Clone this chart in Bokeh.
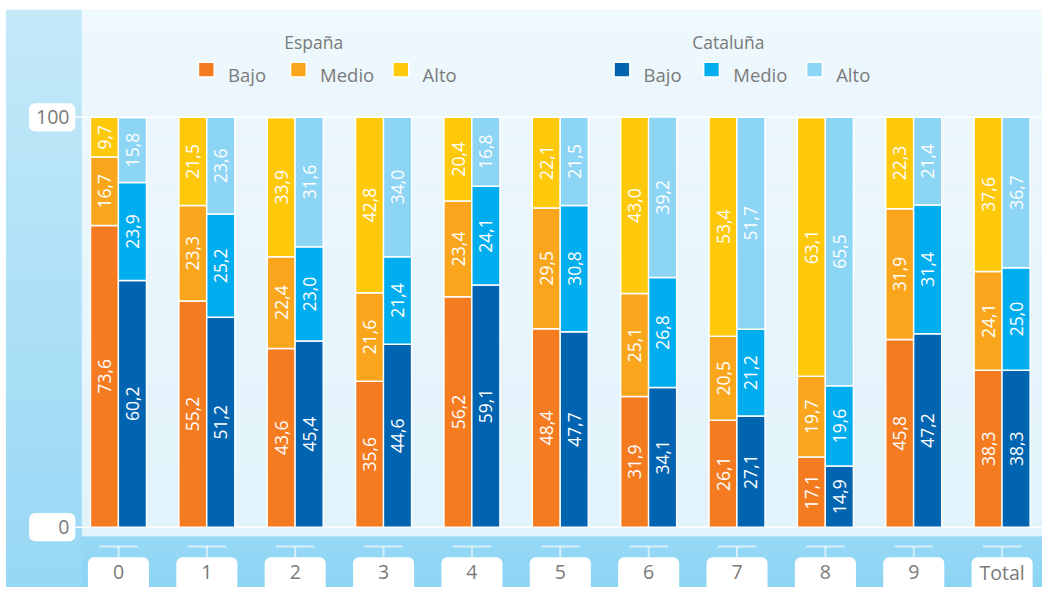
import numpy as np
from bokeh.plotting import figure
from bokeh.models import Range1d, ColumnDataSource
from bokeh.embed import file_html
from bokeh.resources import INLINE
from bokeh.core.properties import value

# ---------------- data ----------------
categories = ["0", "1", "2", "3", "4", "5", "6", "7", "8", "9", "Total"]
levels = ["Bajo", "Medio", "Alto"]
regions = ["España", "Cataluña"]

espana_bajo = [73.6, 55.2, 43.6, 35.6, 56.2, 48.4, 31.9, 26.1, 17.1, 45.8, 38.3]
espana_medio = [16.7, 23.3, 22.4, 21.6, 23.4, 29.5, 25.1, 20.5, 19.7, 31.9, 24.1]
espana_alto = [9.7, 21.5, 33.9, 42.8, 20.4, 22.1, 43.0, 53.4, 63.1, 22.3, 37.6]

cataluna_bajo = [60.2, 51.2, 45.4, 44.6, 59.1, 47.7, 34.1, 27.1, 14.9, 47.2, 38.3]
cataluna_medio = [23.9, 25.2, 23.0, 21.4, 24.1, 30.8, 26.8, 21.2, 19.6, 31.4, 25.0]
cataluna_alto = [15.8, 23.6, 31.6, 34.0, 16.8, 21.5, 39.2, 51.7, 65.5, 21.4, 36.7]

y_ticks = [0, 100]

# ---------------- style ----------------
espana_colors = ["#f47b20", "#f9a61c", "#fec80b"]
cataluna_colors = ["#0064b0", "#00adee", "#8dd5f5"]
FONT = value("Open Sans")
GRAY = "#7a7a7a"

W, H = 1042, 587          # figure size (fits the window)
REF_W, REF_H = 1058, 603  # layout designed in these units
CAT_PX = 89.72
CAT0_X = 119.8
UNIT_PX = 4.21
ZERO_Y = 541.0


def X(px):
    return (px - CAT0_X) / CAT_PX


def Y(py):
    return (ZERO_Y - py) / UNIT_PX


def DX(d):
    return d / CAT_PX


def DY(d):
    return d / UNIT_PX


p = figure(width=W, height=H,
           x_range=Range1d(X(0), X(REF_W)), y_range=Range1d(Y(REF_H), Y(0)),
           min_border=0, toolbar_location=None, output_backend="svg",
           x_axis_location=None, y_axis_location=None,
           outline_line_color=None, background_fill_color="white",
           border_fill_color="white")
p.grid.visible = False


def hex2rgb(h):
    return np.array([int(h[i:i + 2], 16) for i in (1, 3, 5)], float)


def vgrad(left, right, top, bottom, c_top, c_bot, n=24):
    a, b = hex2rgb(c_top), hex2rgb(c_bot)
    ys = np.linspace(top, bottom, n + 1)
    cols = ["#%02x%02x%02x" % tuple(int(round(v)) for v in a + (b - a) * k / (n - 1))
            for k in range(n)]
    p.quad(left=[X(left)] * n, right=[X(right)] * n,
           top=[Y(v) for v in ys[:-1]], bottom=[Y(v) for v in ys[1:]],
           fill_color=cols, line_color=cols, line_width=1)


# backgrounds
vgrad(6, 83, 10, 610, "#c3e8f8", "#97d8f5")
vgrad(83, 1060, 550, 610, "#96d8f5", "#8bd5f4", n=8)
vgrad(83, 1060, 10, 550, "#eef8fd", "#e2f3fb")

n = len(categories)
idx = np.arange(n)

# grid lines + y tick boxes
for t in y_ticks:
    p.segment(x0=X(76), x1=X(1060), y0=t, y1=t, line_color="white", line_width=1.5)
p.quad(left=[X(29)] * len(y_ticks), right=[X(76)] * len(y_ticks),
       top=[t + DY(14.5) for t in y_ticks], bottom=[t - DY(14.5) for t in y_ticks],
       fill_color="white", line_color=None, border_radius=6)
p.text(x=[X(70)] * len(y_ticks), y=y_ticks, text=[str(t) for t in y_ticks],
       text_align="right", text_baseline="middle", text_color=GRAY,
       text_font=FONT, text_font_size=value("19.5px"))

# category ticks + boxes
p.segment(x0=idx - DX(19.5), x1=idx + DX(19.5), y0=[Y(561)] * n, y1=[Y(561)] * n,
          line_color="white", line_alpha=0.6, line_width=2)
p.segment(x0=idx, x1=idx, y0=[Y(561)] * n, y1=[Y(572)] * n,
          line_color="white", line_alpha=0.6, line_width=2)
p.quad(left=idx - DX(31), right=idx + DX(31), top=[Y(572)] * n, bottom=[Y(625)] * n,
       fill_color="white", line_color=None, border_radius=6)
p.text(x=idx, y=[Y(587.5)] * n, text=categories, text_align="center",
       text_baseline="middle", text_color=GRAY, text_font=FONT,
       text_font_size=value("19.5px"))

# bars
groups = [(espana_bajo, espana_medio, espana_alto), (cataluna_bajo, cataluna_medio, cataluna_alto)]
group_colors = [espana_colors, cataluna_colors]
offsets = [-DX(14.15), DX(14.15)]

for series, colors, off in zip(groups, group_colors, offsets):
    bottom = np.zeros(n)
    for vals, col in zip(series, colors):
        vals = np.array(vals)
        top = bottom + vals
        src = ColumnDataSource(dict(
            x=idx + off, bottom=bottom, top=top, mid=(bottom + top) / 2,
            label=[f"{v:.1f}".replace(".", ",") for v in vals]))
        p.vbar(x="x", bottom="bottom", top="top", width=DX(28.6), source=src,
               fill_color=col, line_color="white", line_width=1.5)
        p.text(x="x", y="mid", text="label", angle=np.pi / 2, source=src,
               text_align="center", text_baseline="middle", text_color="white",
               text_font=FONT, text_font_size=value("17.5px"))
        bottom = top

# legends
title_x = [318, 739]
square_x = [[201, 294.5, 398.5], [623, 714, 818.5]]
for name, tx, sx, colors in zip(regions, title_x, square_x, group_colors):
    p.text(x=[X(tx)], y=[Y(43)], text=[name], text_align="center",
           text_baseline="middle", text_color=GRAY, text_font=FONT,
           text_font_size=value("17.5px"))
    p.quad(left=[X(s) for s in sx], right=[X(s + 16) for s in sx],
           top=[Y(63.5)] * 3, bottom=[Y(78.5)] * 3,
           fill_color=colors, line_color="white", line_width=1.5)
    p.text(x=[X(s + 30) for s in sx], y=[Y(76.5)] * 3, text=levels,
           text_align="left", text_baseline="middle", text_color=GRAY,
           text_font=FONT, text_font_size=value("18.5px"))

open("out.html", "w").write(file_html(p, INLINE))
